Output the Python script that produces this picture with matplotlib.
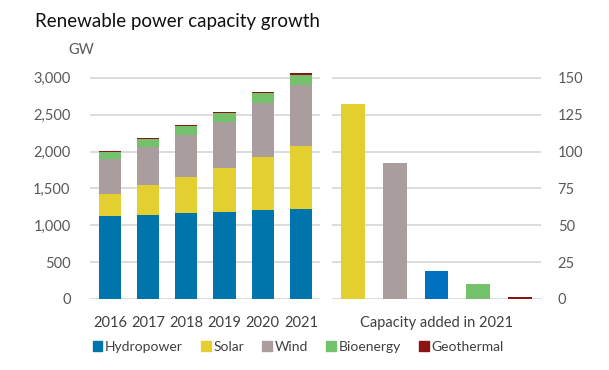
import matplotlib.pyplot as plt
import matplotlib.patches as mpatches
import numpy as np

plt.rcParams['font.family'] = ['Lato', 'DejaVu Sans']

years = ['2016', '2017', '2018', '2019', '2020', '2021']
hydro = [1131, 1145, 1167, 1186, 1208, 1226]
solar = [294, 403, 494, 597, 720, 856]
wind = [475, 515, 565, 620, 733, 823]
bio = [95, 109, 118, 122, 131, 140]
geo = [15, 15, 16, 16, 16, 17]

added_names = ['Solar', 'Wind', 'Hydropower', 'Bioenergy', 'Geothermal']
added_2021 = [132.5, 92.5, 19, 10, 1.5]

colors = {'Hydropower': '#0075ab', 'Solar': '#e3cf2f', 'Wind': '#a99d9e',
          'Bioenergy': '#73c16a', 'Geothermal': '#8c1414'}
added_colors = ['#e3cf2f', '#a99d9e', '#0070c0', '#73c16a', '#8c1414']

grey = '#595959'
grid_c = '#d9d9d9'

fig = plt.figure(figsize=(6.09, 3.70), dpi=100)

# left panel: stacked capacity
ax1 = fig.add_axes([90/609, 71/370, 230/609, 228.5/370])
x = np.arange(len(years))
bottom = np.zeros(len(years))
for name, vals in [('Hydropower', hydro), ('Solar', solar), ('Wind', wind),
                   ('Bioenergy', bio), ('Geothermal', geo)]:
    ax1.bar(x, vals, 0.58, bottom=bottom, color=colors[name], zorder=3)
    bottom += np.array(vals)
ax1.set_xlim(-0.52, 5.5)
ax1.set_ylim(0, 3100)
ax1.set_yticks(range(0, 3001, 500))
ax1.set_yticklabels([f'{v:,}' for v in range(0, 3001, 500)])
ax1.set_xticks(x)
ax1.set_xticklabels(years)

# right panel: added in 2021
ax2 = fig.add_axes([332/609, 71/370, 209/609, 228.5/370])
x2 = np.arange(len(added_2021))
ax2.bar(x2, added_2021, 0.57, color=added_colors, zorder=3)
ax2.set_xlim(-0.5, 4.5)
ax2.set_ylim(0, 155)
ax2.set_yticks(range(0, 151, 25))
ax2.yaxis.tick_right()
ax2.set_xticks([2])
ax2.set_xticklabels(['Capacity added in 2021'])

for ax in (ax1, ax2):
    for s in ax.spines.values():
        s.set_visible(False)
    ax.grid(axis='y', color=grid_c, linewidth=1.3, zorder=0)
    ax.tick_params(length=0, labelsize=10.5, labelcolor=grey)
    ax.tick_params(axis='x', pad=12, labelcolor='#404040')
ax1.tick_params(axis='y', pad=14)
ax2.tick_params(axis='y', pad=12)

fig.text(35/609, 1 - 22/370, 'Renewable power capacity growth', fontsize=13.5,
         va='center', ha='left', color='#111111')
fig.text(68/609, 1 - 50/370, 'GW', fontsize=10.5, va='center', ha='left', color=grey)

handles = [mpatches.Patch(color=colors[n]) for n in
           ['Hydropower', 'Solar', 'Wind', 'Bioenergy', 'Geothermal']]
fig.legend(handles, ['Hydropower', 'Solar', 'Wind', 'Bioenergy', 'Geothermal'],
           loc='center left', bbox_to_anchor=(80/609, 1 - 347/370), ncol=5,
           frameon=False, fontsize=10, handlelength=0.7, handleheight=0.7,
           handletextpad=0.2, columnspacing=1.3, labelcolor='#404040')

fig.savefig('out.png', dpi=100)
